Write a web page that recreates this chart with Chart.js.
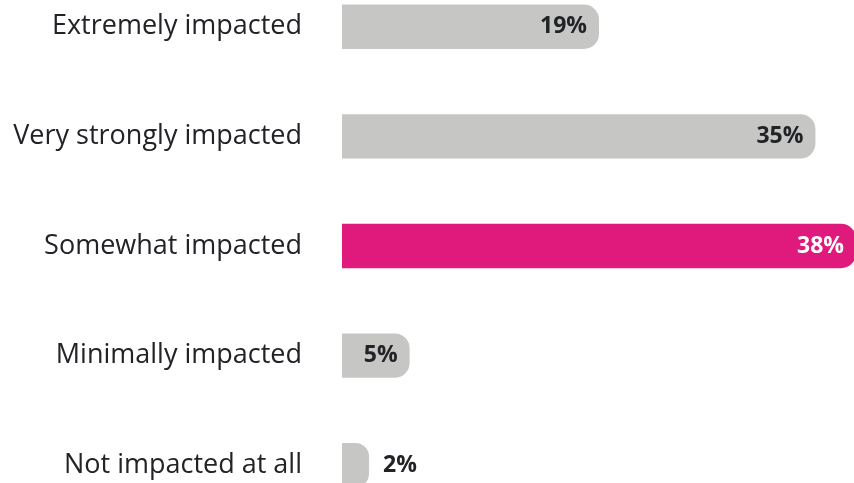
<!DOCTYPE html>
<html>
<head>
<meta charset="utf-8">
<script src="https://cdn.jsdelivr.net/npm/chart.js@4.4.1/dist/chart.umd.min.js"></script>
<style>
  html, body { margin: 0; padding: 0; background: #fff; overflow: hidden; width: 854px; height: 483px; }
  #impactChart { position: absolute; left: 0; top: -28px; }
</style>
</head>
<body>
<canvas id="impactChart" width="856" height="548"></canvas>
<script>
const categories = [
  "Extremely impacted",
  "Very strongly impacted",
  "Somewhat impacted",
  "Minimally impacted",
  "Not impacted at all",
];
const shares = [19, 35, 38, 5, 2];
const highlightIndex = 2;

const GRAY = "#c6c6c5";
const PINK = "#e0197d";
const TEXT = "#222326";

// value labels: inside the bar end, or just past it when the bar is too short
const valueLabels = {
  id: "valueLabels",
  afterDatasetsDraw(chart) {
    const ctx = chart.ctx;
    const meta = chart.getDatasetMeta(0);
    ctx.save();
    ctx.font = "bold 23px 'Open Sans'";
    ctx.textBaseline = "middle";
    meta.data.forEach((bar, i) => {
      const text = `${shares[i]}%`;
      const inside = shares[i] >= 4;
      ctx.fillStyle = i === highlightIndex ? "#ffffff" : TEXT;
      if (inside) {
        ctx.textAlign = "right";
        ctx.fillText(text, bar.x - 12, bar.y);
      } else {
        ctx.textAlign = "left";
        ctx.fillText(text, bar.x + 14, bar.y);
      }
    });
    ctx.restore();
  },
};

new Chart(document.getElementById("impactChart"), {
  type: "bar",
  data: {
    labels: categories,
    datasets: [{
      data: shares,
      backgroundColor: shares.map((_, i) => (i === highlightIndex ? PINK : GRAY)),
      borderRadius: 15,
      borderSkipped: "start",
      categoryPercentage: 1,
      barPercentage: 0.405,
    }],
  },
  options: {
    indexAxis: "y",
    responsive: false,
    animation: false,
    layout: { padding: 0 },
    plugins: { legend: { display: false }, tooltip: { enabled: false } },
    scales: {
      x: {
        min: 0,
        max: 38,
        display: false,
      },
      y: {
        grid: { display: false, drawTicks: false },
        border: { display: false },
        ticks: {
          color: TEXT,
          padding: 40,
          font: { family: "Open Sans", size: 27 },
        },
        afterFit(scale) {
          // fixed axis width; no extra room above or below the rows
          scale.width = 342;
          scale.paddingTop = 0;
          scale.paddingBottom = 0;
        },
      },
    },
  },
  plugins: [valueLabels],
});
</script>
</body>
</html>
